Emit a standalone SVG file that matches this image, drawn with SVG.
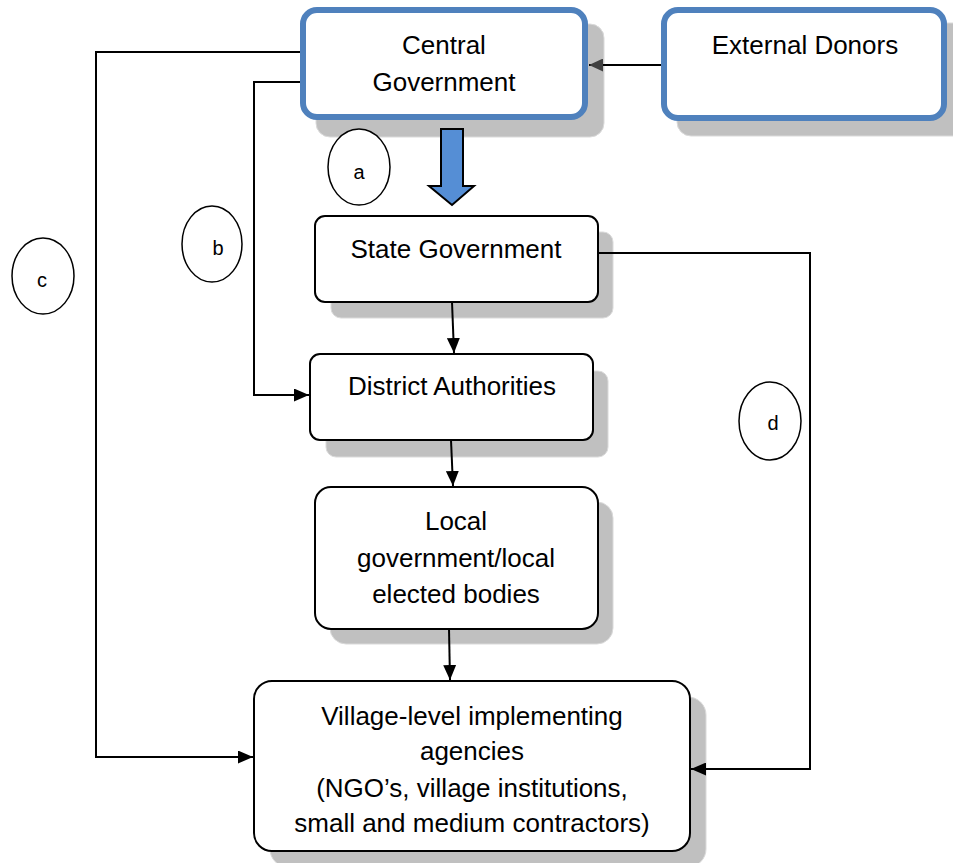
<svg xmlns="http://www.w3.org/2000/svg" width="953" height="863" viewBox="0 0 953 863">
<style>
  .shadow { fill: #c0c0c0; stroke: #dadada; stroke-width: 1; }
  .box { fill: #ffffff; stroke: #000000; stroke-width: 2; }
  .bluebox { fill: #ffffff; stroke: #4f81bd; stroke-width: 6; }
  .lbl { font-family: "Liberation Sans", Arial, sans-serif; font-size: 26px; fill: #000000; text-anchor: middle; }
  .small { font-family: "Liberation Sans", Arial, sans-serif; font-size: 20px; fill: #000000; text-anchor: middle; }
  .circ { fill: #ffffff; stroke: #000000; stroke-width: 1.5; }
  .conn { fill: none; stroke: #000000; stroke-width: 2; }
</style>
<defs>
  <marker id="ah" viewBox="0 0 10 10" refX="10" refY="5" markerWidth="15" markerHeight="13" markerUnits="userSpaceOnUse" orient="auto" preserveAspectRatio="none">
    <path d="M0,0 L10,5 L0,10 Z" fill="#000000"/>
  </marker>
  <marker id="ahg" viewBox="0 0 10 10" refX="10" refY="5" markerWidth="14" markerHeight="13" markerUnits="userSpaceOnUse" orient="auto" preserveAspectRatio="none">
    <path d="M0,0 L10,5 L0,10 Z" fill="#404040"/>
  </marker>
</defs>

<g id="central-government">
  <rect class="shadow" x="316" y="24" width="288" height="113" rx="14"/>
  <rect class="bluebox" x="303" y="10" width="282" height="107" rx="14"/>
  <text class="lbl" x="444" y="54">Central</text>
  <text class="lbl" x="444" y="91">Government</text>
</g>

<g id="external-donors">
  <rect class="shadow" x="677" y="23" width="290" height="113" rx="14"/>
  <rect class="bluebox" x="664" y="10" width="280" height="108" rx="14"/>
  <text class="lbl" x="805" y="54">External Donors</text>
</g>

<g id="state-government">
  <rect class="shadow" x="331" y="232" width="282" height="86" rx="10" stroke="none"/>
  <rect class="box" x="315" y="216" width="283" height="86" rx="10"/>
  <text class="lbl" x="456" y="258">State Government</text>
</g>

<g id="district-authorities">
  <rect class="shadow" x="326" y="371" width="282" height="86" rx="10" stroke="none"/>
  <rect class="box" x="310" y="354" width="283" height="86" rx="10"/>
  <text class="lbl" x="452" y="395">District Authorities</text>
</g>

<g id="local-government">
  <rect class="shadow" x="330" y="502" width="283" height="142" rx="16" stroke="none"/>
  <rect class="box" x="315" y="487" width="283" height="142" rx="16"/>
  <text class="lbl" x="456" y="530">Local</text>
  <text class="lbl" x="456" y="567">government/local</text>
  <text class="lbl" x="456" y="603">elected bodies</text>
</g>

<g id="village-agencies">
  <rect class="shadow" x="270" y="697" width="436" height="170" rx="18" stroke="none"/>
  <rect class="box" x="254" y="681" width="436" height="170" rx="18"/>
  <text class="lbl" x="472" y="725">Village-level implementing</text>
  <text class="lbl" x="472" y="760">agencies</text>
  <text class="lbl" x="472" y="797">(NGO’s, village institutions,</text>
  <text class="lbl" x="472" y="832">small and medium contractors)</text>
</g>

<g id="label-a">
  <ellipse class="circ" cx="359" cy="167" rx="31" ry="38"/>
  <text class="small" x="359" y="179">a</text>
</g>
<g id="label-b">
  <ellipse class="circ" cx="212" cy="244" rx="30" ry="38"/>
  <text class="small" x="218" y="255">b</text>
</g>
<g id="label-c">
  <ellipse class="circ" cx="43" cy="276" rx="31" ry="38"/>
  <text class="small" x="42" y="287">c</text>
</g>
<g id="label-d">
  <ellipse class="circ" cx="770" cy="421" rx="31" ry="39"/>
  <text class="small" x="773" y="430">d</text>
</g>

<g id="connectors">
  <polygon points="441,129 463,129 463,186 474,186 452,205 429,186 441,186" fill="#558ed5" stroke="#000000" stroke-width="2" stroke-linejoin="miter"/>
  <path class="conn" d="M661,65 L589,65" marker-end="url(#ahg)" stroke-width="2.5"/>
  <path class="conn" d="M300,52 L96,52 L96,757 L253,757" marker-end="url(#ah)"/>
  <path class="conn" d="M300,82 L254,82 L254,395 L309,395" marker-end="url(#ah)"/>
  <path class="conn" d="M598,253 L810,253 L810,769 L691,769" marker-end="url(#ah)"/>
  <path class="conn" d="M452,302 L454,353" marker-end="url(#ah)"/>
  <path class="conn" d="M451,440 L453,486" marker-end="url(#ah)"/>
  <path class="conn" d="M449,629 L450,680" marker-end="url(#ah)"/>
</g>
</svg>
